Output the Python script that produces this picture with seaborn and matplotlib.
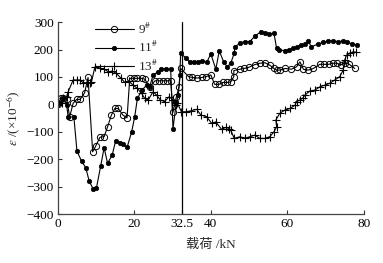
import numpy as np
import pandas as pd
import matplotlib
matplotlib.use("Agg")
import matplotlib.pyplot as plt
import seaborn as sns

# ====================================
# Data
# ====================================

x9 = [0, 0.8, 1.4, 2.3, 3.1, 4.0, 4.9, 5.8, 7.0, 7.9, 9.1, 9.9, 11.0, 12.1, 13.0,
      14.0, 14.9, 15.8, 17.0, 18.1, 18.8, 19.9, 20.8, 21.9, 22.7, 24.0, 25.4, 26.5,
      27.5, 28.6, 29.5, 30.1, 31.0, 31.7, 32.1, 34.2, 35.2, 36.5, 37.6, 38.7, 40.0,
      41.0, 42.1, 43.2, 44.3, 45.2, 46.0, 46.0, 47.6, 48.7, 49.9, 51.5, 52.8, 54.1,
      55.4, 56.5, 57.2, 58.1, 59.5, 61.0, 62.4, 63.3, 64.2, 65.5, 66.8, 68.5, 69.6,
      70.8, 72.0, 73.0, 73.9, 75.0, 76.2, 77.6]
y9 = [0, 22, 24, 18, -45, 4, 18, 18, 42, 98, -173, -152, -120, -118, -82,
      -39, -15, -15, -39, -49, 95, 95, 95, 95, 92, 64, 86, 86,
      86, 86, 86, -29, 28, 64, 131, 101, 98, 96, 98, 101, 107,
      73, 73, 80, 80, 82, 101, 123, 128, 131, 135, 145, 150, 152,
      143, 131, 125, 125, 131, 128, 137, 155, 128, 125, 131, 146, 146,
      146, 150, 150, 143, 152, 146, 131]

x11 = [0, 0.6, 1.4, 2.3, 2.7, 4.2, 5.0, 6.2, 7.3, 8.2, 9.2, 10.1, 11.2, 12.1, 13.0,
       14.2, 15.1, 16.2, 17.1, 18.1, 19.3, 20.1, 20.8, 22.0, 23.2, 24.0, 24.9, 26.2,
       27.1, 28.4, 29.5, 30.1, 31.0, 31.5, 31.9, 32.1, 33.6, 34.5, 35.6, 36.7, 37.8,
       38.9, 40.0, 41.3, 42.2, 43.4, 44.3, 45.2, 46.1, 46.3, 47.6, 48.9, 50.2, 51.5,
       53.1, 54.1, 55.2, 56.5, 57.2, 57.9, 59.3, 60.4, 61.5, 62.5, 63.7, 64.6, 65.4,
       66.3, 68.0, 69.4, 70.7, 72.0, 73.3, 74.6, 75.7, 76.8, 78.1]
y11 = [0, 4, 22, -3, -45, -47, -170, -207, -231, -280, -307, -304, -225, -158, -215,
       -185, -134, -142, -145, -157, -100, -45, 22, 52, 70, 64, 107, 119,
       129, 129, 129, -88, 10, 34, 107, 186, 168, 153, 153, 153, 159,
       153, 184, 128, 195, 153, 137, 150, 186, 210, 223, 229, 229, 249,
       265, 259, 255, 259, 204, 198, 196, 200, 204, 210, 216, 220, 232,
       210, 220, 226, 231, 231, 229, 231, 229, 220, 216]

x13 = [0, 1.0, 1.4, 2.3, 2.7, 4.0, 4.9, 5.8, 6.6, 7.5, 8.4, 8.8, 9.7, 11.0, 12.1,
       13.2, 14.2, 15.3, 16.4, 17.5, 18.5, 19.7, 20.8, 21.9, 22.7, 23.6, 24.9, 25.8,
       26.8, 27.9, 29.1, 30.1, 30.8, 31.2, 32.3, 33.6, 34.9, 36.3, 37.4, 38.9, 40.2,
       41.3, 42.8, 43.9, 44.8, 45.2, 46.1, 47.6, 48.9, 50.2, 51.5, 52.8, 54.1, 55.4,
       56.5, 57.2, 57.0, 58.0, 59.3, 60.7, 62.0, 62.4, 63.3, 64.0, 64.6, 65.9, 67.2,
       68.5, 69.8, 71.1, 72.4, 73.7, 74.6, 75.0, 75.5, 76.5, 77.2, 78.0]
y13 = [0, 4, 22, 28, 46, 89, 89, 89, 79, 79, 79, 82, 137, 131, 128,
       119, 121, 113, 97, 80, 85, 70, 58, 40, 22, 16, 46, 34,
       16, 10, 28, 16, -3, 6, -27, -27, -23, -18, -39, -45, -69,
       -64, -91, -84, -88, -94, -124, -118, -124, -118, -112, -124, -124, -118,
       -100, -82, -57, -33, -21, -15, -3, 10, 16, 22, 34, 49, 52,
       64, 70, 77, 89, 101, 125, 162, 180, 186, 192, 190]

labels = [r"9$^{\#}$", r"11$^{\#}$", r"13$^{\#}$"]
x_ticks = [0, 20, 32.5, 40, 60, 80]
x_tick_labels = ["0", "20", "32.5", "40", "60", "80"]
y_ticks = [-400, -300, -200, -100, 0, 100, 200, 300]

# ====================================
# Plot
# ====================================

sns.set_style("ticks")
plt.rcParams["font.family"] = ["Liberation Serif", "Noto Sans CJK SC"]
plt.rcParams["mathtext.fontset"] = "stix"
plt.rcParams["font.size"] = 9.5

fig = plt.figure(figsize=(3.83, 2.63), dpi=100)
ax = fig.add_axes([0.151, 0.186, 0.799, 0.730])

sns.lineplot(
    x=x9, y=y9, ax=ax, sort=False, estimator=None,
    color="black", linewidth=0.8, marker="o", markersize=4.5,
    markerfacecolor="none", markeredgecolor="black", markeredgewidth=0.7,
    label=labels[0]
)

sns.lineplot(
    x=x11, y=y11, ax=ax, sort=False, estimator=None,
    color="black", linewidth=0.8, marker="o", markersize=3.2,
    markerfacecolor="black", markeredgecolor="black", markeredgewidth=0.5,
    label=labels[1]
)

sns.lineplot(
    x=x13, y=y13, ax=ax, sort=False, estimator=None,
    color="black", linewidth=0.8, marker="+", markersize=6,
    markeredgecolor="black", markeredgewidth=0.8,
    label=labels[2]
)

ax.axvline(32.5, color="black", linewidth=0.9)

ax.set_xlim(0, 80)
ax.set_ylim(-400, 300)
ax.set_xticks(x_ticks)
ax.set_xticklabels(x_tick_labels)
ax.set_yticks(y_ticks)

ax.tick_params(direction="in", length=3, width=0.8, colors="#333333",
               labelcolor="black", labelsize=9.5, pad=3)

sns.despine(ax=ax)
for s in ["left", "bottom"]:
    ax.spines[s].set_color("#444444")
    ax.spines[s].set_linewidth(0.9)

ax.set_xlabel("载荷 /kN", fontsize=9.5, labelpad=6)
ax.set_ylabel(r"$\it{\varepsilon}$ /(×10$^{-6}$)", fontsize=9.5, labelpad=2)

ax.legend(
    loc="upper left", bbox_to_anchor=(0.09, 1.05), frameon=False,
    handlelength=3.0, labelspacing=0.25, handletextpad=0.3,
    fontsize=9.5, borderpad=0.2
)

plt.savefig("out.png", dpi=100)
plt.close()
